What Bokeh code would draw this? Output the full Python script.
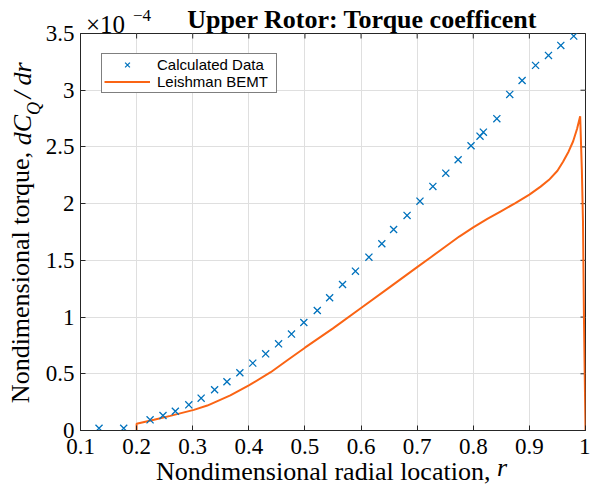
import math
from bokeh.plotting import figure
from bokeh.models import Range1d, FixedTicker, LinearAxis, Legend, LegendItem
from bokeh.embed import file_html
from bokeh.resources import INLINE

# ---- data (dC_Q/dr in units of 1e-4) ----
r_calc = [0.133, 0.177, 0.224, 0.247, 0.269, 0.293, 0.315, 0.339, 0.361, 0.384,
          0.407, 0.430, 0.453, 0.476, 0.498, 0.522, 0.544, 0.567, 0.590, 0.614,
          0.637, 0.658, 0.682, 0.705, 0.728, 0.751, 0.773, 0.796, 0.812, 0.818,
          0.842, 0.865, 0.887, 0.911, 0.934, 0.956, 0.979]
dcq_calc = [0.02, 0.02, 0.094, 0.132, 0.170, 0.226, 0.285, 0.359, 0.430, 0.509,
            0.594, 0.676, 0.764, 0.850, 0.952, 1.058, 1.170, 1.287, 1.405, 1.528,
            1.646, 1.772, 1.896, 2.022, 2.152, 2.269, 2.387, 2.510, 2.595, 2.630,
            2.749, 2.963, 3.086, 3.219, 3.307, 3.395, 3.477]

r_bemt = [0.2, 0.2, 0.231, 0.26, 0.302, 0.326, 0.367, 0.4, 0.439, 0.468,
          0.5, 0.55, 0.6, 0.65, 0.7, 0.725, 0.75, 0.775, 0.8, 0.825,
          0.85, 0.875, 0.9, 0.92, 0.935, 0.95, 0.96, 0.97, 0.978, 0.985,
          0.9905, 0.9935, 0.9955, 0.9973, 1.0]
dcq_bemt = [0.0, 0.059, 0.094, 0.129, 0.182, 0.22, 0.309, 0.397, 0.514, 0.617,
            0.73, 0.90, 1.08, 1.26, 1.44, 1.53, 1.62, 1.71, 1.79, 1.865,
            1.935, 2.005, 2.08, 2.15, 2.21, 2.29, 2.37, 2.46, 2.55, 2.66,
            2.77, 2.30, 1.85, 0.97, 0.0]

x_ticks = [0.1, 0.2, 0.3, 0.4, 0.5, 0.6, 0.7, 0.8, 0.9, 1.0]
x_tick_labels = ["0.1", "0.2", "0.3", "0.4", "0.5", "0.6", "0.7", "0.8", "0.9", "1"]
y_ticks = [0.0, 0.5, 1.0, 1.5, 2.0, 2.5, 3.0, 3.5]
y_tick_labels = ["0", "0.5", "1", "1.5", "2", "2.5", "3", "3.5"]

series_names = ["Calculated Data", "Leishman BEMT"]
title_text = "Upper Rotor: Torque coefficent"
x_label_text = "Nondimensional radial location,"
y_label_text = "Nondimensional torque,"

SERIF = "Liberation Serif"
AX = "#262626"
NB = "\u00a0"

p = figure(width=590, height=491, x_range=Range1d(0.1, 1.0), y_range=Range1d(0, 3.5),
           output_backend="svg", toolbar_location=None,
           min_border_left=80, min_border_right=5, min_border_top=33, min_border_bottom=61)
p.background_fill_color = "white"
p.border_fill_color = "white"
p.outline_line_color = AX
p.outline_line_width = 1
p.title.visible = False

xa = p.xaxis[0]
ya = p.yaxis[0]
for ax, ticks, labels in ((xa, x_ticks, x_tick_labels), (ya, y_ticks, y_tick_labels)):
    ax.ticker = FixedTicker(ticks=ticks)
    ax.major_label_overrides = dict(zip(ticks, labels))
    ax.major_label_text_font = SERIF
    ax.major_label_text_font_size = "23px"
    ax.major_label_text_color = "black"
    ax.axis_line_color = AX
    ax.major_tick_line_color = AX
    ax.major_tick_in = 5
    ax.major_tick_out = 0
    ax.minor_tick_line_color = None
xa.major_label_standoff = 8
ya.major_label_standoff = 6

p.xgrid.grid_line_color = "#dfdfdf"
p.ygrid.grid_line_color = "#dfdfdf"


def text_axis(pos, labels, size, style="normal", standoff=0, orient="horizontal",
              label=None, label_size="26px", label_style="normal", label_standoff=0):
    """An axis without line or ticks, used only to set text in the margins."""
    ax = LinearAxis(ticker=FixedTicker(ticks=list(pos)),
                    major_label_overrides=dict(zip(pos, labels)),
                    axis_line_color=None, major_tick_line_color=None, minor_tick_line_color=None,
                    major_tick_in=0, major_tick_out=0,
                    major_label_text_font=SERIF, major_label_text_font_size=size,
                    major_label_text_font_style=style, major_label_text_color="black",
                    major_label_standoff=standoff, major_label_orientation=orient)
    if label is not None:
        ax.axis_label = label
        ax.axis_label_text_font = SERIF
        ax.axis_label_text_font_size = label_size
        ax.axis_label_text_font_style = label_style
        ax.axis_label_text_color = "black"
        ax.axis_label_standoff = label_standoff
    return ax

# top: "x10" exponent and the title on one row, "-4" superscript above it
p.add_layout(text_axis([0.1446], ["\u00d710"], "25px", standoff=-4,
                       label=NB * 9 + title_text, label_size="26px", label_style="bold",
                       label_standoff=-26), "above")
p.add_layout(text_axis([0.2096], ["\u22124"], "17px", standoff=-19), "above")

# bottom: x label with italic r
p.add_layout(text_axis([0.8512], ["r"], "26px", style="italic", standoff=-4,
                       label=x_label_text + NB * 3, label_standoff=-28), "below")

# left: y label with italic dC_Q/dr
p.add_layout(text_axis([2.839], ["Q"], "18px", style="italic", standoff=-2,
                       orient="parallel"), "left")
p.add_layout(text_axis([2.648, 2.959, 3.144], ["dC", "/", "dr"], "26px", style="italic",
                       standoff=-16, orient="parallel",
                       label=y_label_text + NB * 14, label_standoff=-29), "left")

# inward tick marks on the top and right edges of the box
p.scatter(x_ticks, [y_ticks[-1]] * len(x_ticks), marker="dash", angle=math.pi / 2,
          size=10, line_color=AX, line_width=1)
p.scatter([x_ticks[-1]] * len(y_ticks), y_ticks, marker="dash", angle=0,
          size=10, line_color=AX, line_width=1)

ln = p.line(r_bemt, dcq_bemt, line_color="#FA6414", line_width=2)
pts = p.scatter(r_calc, dcq_calc, marker="x", size=10, line_color="#0072BD", line_width=1.3)

legend = Legend(items=[LegendItem(label=series_names[0], renderers=[pts]),
                       LegendItem(label=series_names[1], renderers=[ln])],
                location=(21, 337), label_text_font="Liberation Sans", label_text_font_size="15px",
                label_text_color="black", glyph_width=46, glyph_height=17, label_height=17,
                label_width=117, label_standoff=7, spacing=0, padding=2, margin=0,
                border_line_color="black", border_line_width=1, background_fill_color="white",
                background_fill_alpha=1.0)
p.add_layout(legend)

open("out.html", "w").write(file_html(p, INLINE))
